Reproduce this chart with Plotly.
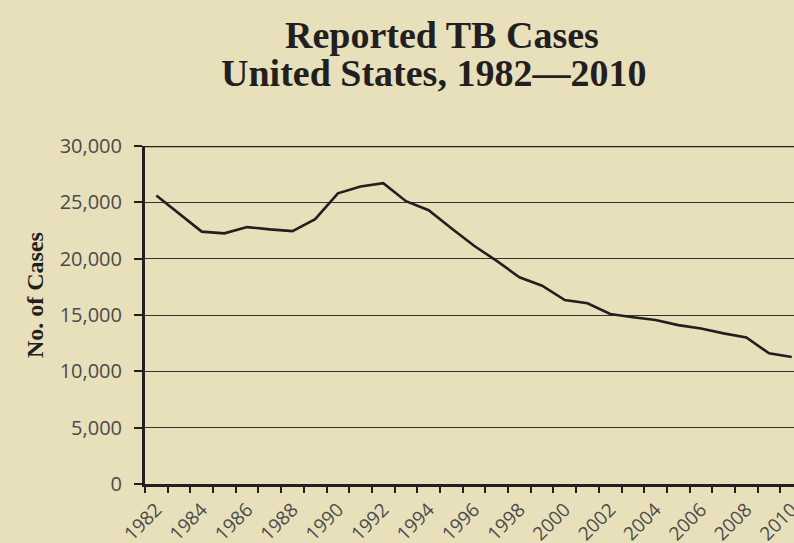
import plotly.graph_objects as go

years = list(range(1982, 2011))
cases = [25600, 24000, 22400, 22250, 22800, 22600, 22450, 23500, 25800, 26400,
         26700, 25100, 24300, 22700, 21150, 19800, 18350, 17600, 16330, 16040,
         15090, 14800, 14550, 14100, 13800, 13370, 13000, 11600, 11270]
y_ticks = [0, 5000, 10000, 15000, 20000, 25000, 30000]
y_tick_text = ["0", "5,000", "10,000", "15,000", "20,000", "25,000", "30,000"]
x_ticks = list(range(1982, 2011, 2))
x_tick_text = [str(y) for y in x_ticks]

bg = "#e8e0bb"
dark = "#231f20"

fig = go.Figure()
fig.add_trace(go.Scatter(x=years, y=cases, mode="lines",
                         line=dict(color=dark, width=2.6), hoverinfo="skip",
                         showlegend=False))

fig.update_layout(
    width=794, height=543,
    paper_bgcolor=bg, plot_bgcolor=bg,
    margin=dict(l=145, r=0, t=146, b=59),
    showlegend=False,
    xaxis=dict(
        range=[1981.5, 2010.1], automargin=False,
        tickmode="array", tickvals=x_ticks, ticktext=x_tick_text,
        tickangle=-45, ticks="", showgrid=False, zeroline=False,
        showline=True, linecolor=dark, linewidth=3,
        tickfont=dict(family="Open Sans", size=19, color="#4a4a4a"),
        ticklabelstandoff=4, ticklabeloverflow="allow",
        minor=dict(ticks="outside", tick0=1981.5, dtick=1, ticklen=6,
                   tickwidth=2, tickcolor=dark, showgrid=False),
        fixedrange=True,
    ),
    yaxis=dict(
        range=[0, 30000], automargin=False,
        tickmode="array", tickvals=y_ticks, ticktext=y_tick_text,
        ticks="outside", ticklen=8, tickwidth=2, tickcolor=dark,
        showgrid=True, gridcolor="#333333", gridwidth=1.2,
        zeroline=False, showline=True, linecolor=dark, linewidth=3,
        tickfont=dict(family="Open Sans", size=20, color="#4a4a4a"),
        ticklabelstandoff=8,
        fixedrange=True,
    ),
    shapes=[dict(type="line", xref="paper", yref="y", x0=0, x1=1, y0=30000, y1=30000,
                 line=dict(color=dark, width=2.5))],
    annotations=[
        dict(text="<b>Reported TB Cases</b>", xref="paper", yref="paper",
             x=0.457, y=1.329, xanchor="center", yanchor="middle", showarrow=False,
             font=dict(family="Liberation Serif", size=38, color=dark)),
        dict(text="<b>United States, 1982\u20142010</b>", xref="paper", yref="paper",
             x=0.4445, y=1.2166, xanchor="center", yanchor="middle", showarrow=False,
             font=dict(family="Liberation Serif", size=38, color=dark)),
        dict(text="<b>No. of Cases</b>", xref="paper", yref="paper",
             x=-0.1695, y=0.559, xanchor="center", yanchor="middle", showarrow=False,
             textangle=-90,
             font=dict(family="Liberation Serif", size=24, color=dark)),
    ],
)

fig.write_html("out.html", config={"displayModeBar": False},
               post_script="document.body.style.margin='0';document.body.style.overflow='hidden';")
